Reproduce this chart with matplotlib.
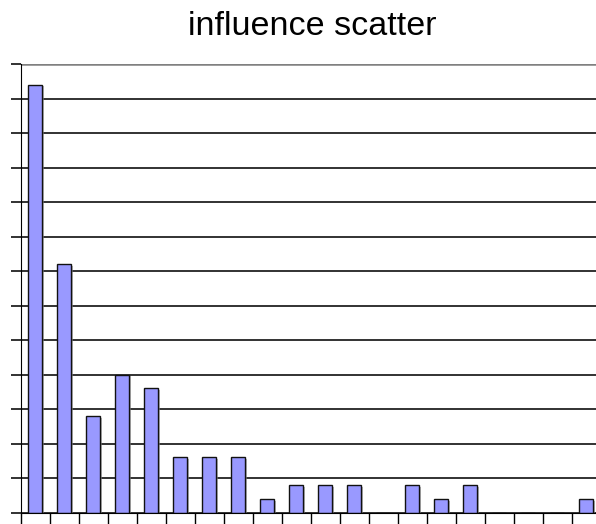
import matplotlib
matplotlib.use("Agg")
import matplotlib.pyplot as plt
import matplotlib.patheffects as pe
import numpy as np

plt.rcParams['font.family'] = ['Liberation Sans', 'DejaVu Sans']

categories = list(range(1, 21))
counts = [31, 18, 7, 10, 9, 4, 4, 4, 1, 2, 2, 2, 0, 2, 1, 2, 0, 0, 0, 1]
yticks = np.arange(0, 32.6, 2.5)

fig = plt.figure(figsize=(5.96, 5.24), dpi=100)
ax = fig.add_axes([20.7 / 596, 11.3 / 524, 580 / 596, 448.7 / 524])

x = np.arange(len(categories))
ax.set_axisbelow(True)
ax.bar(x, counts, width=0.5, color='#9999ff', edgecolor='#111111', linewidth=1.0,
       path_effects=[pe.SimplePatchShadow(offset=(1.2, -1.2), shadow_rgbFace='#888888', alpha=0.6),
                     pe.Normal()])

ax.set_xlim(-0.5, len(categories) - 0.5)
ax.set_ylim(0, 32.5)
ax.set_xticks(np.arange(-0.5, len(categories), 1.0))
ax.set_yticks(yticks)
ax.set_xticklabels([])
ax.set_yticklabels([])
ax.tick_params(axis='x', direction='out', length=8, width=1, color='black')
ax.tick_params(axis='y', direction='out', length=7.5, width=1.3, color='#222222')

ax.grid(axis='y', color='#222222', linewidth=1.3)
ax.yaxis.get_gridlines()[-1].set_color('#808080')
ax.yaxis.get_gridlines()[-1].set_linewidth(1.8)
ax.yaxis.get_major_ticks()[-1].tick1line.set_color('#808080')
for s in ['top', 'right']:
    ax.spines[s].set_visible(False)
ax.spines['left'].set_color('black')
ax.spines['bottom'].set_color('black')

fig.text(312 / 596, 1 - 35 / 524, 'influence scatter', fontsize=24.5, ha='center', va='baseline')

plt.savefig('out.png', dpi=100)
